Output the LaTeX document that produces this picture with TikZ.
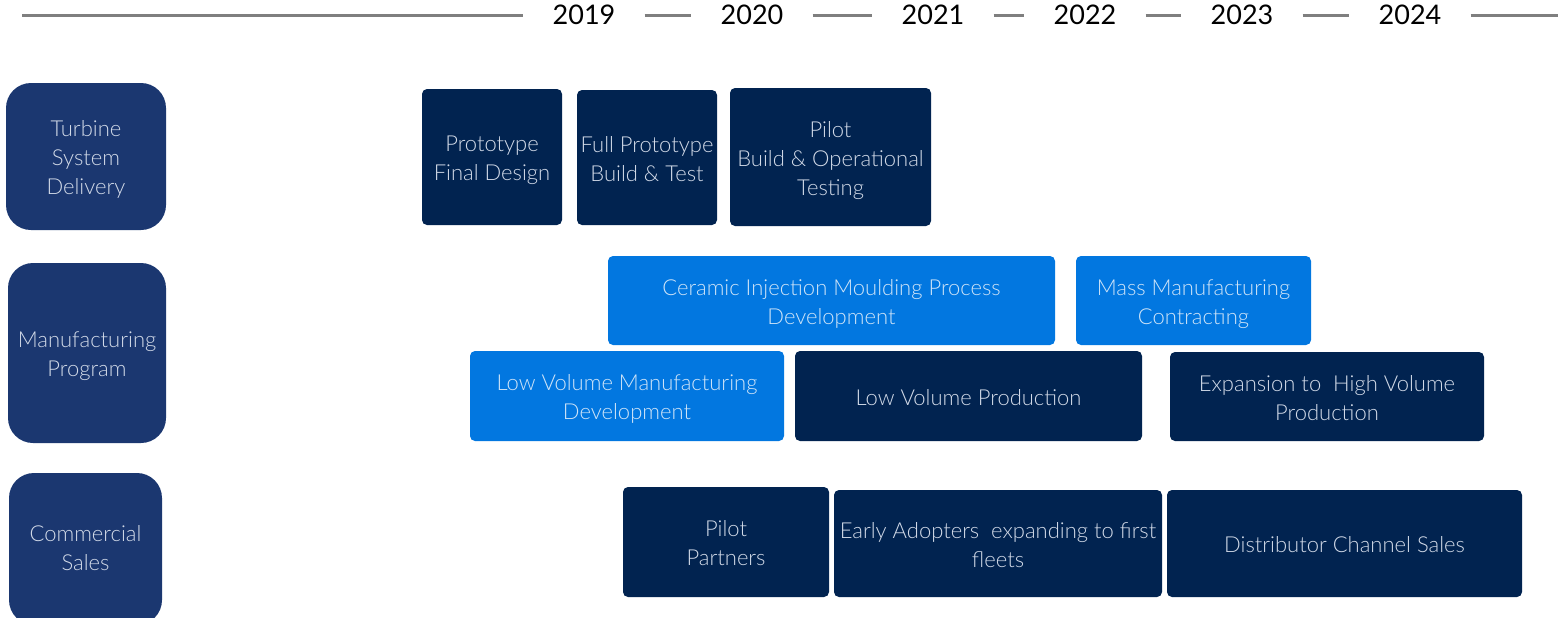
\documentclass[tikz,border=0pt]{standalone}
\usepackage{fontspec}
\setmainfont{Lato}[UprightFont=* Light]
\newfontfamily\yearfont{Lato}
\definecolor{catblue}{HTML}{1B3770}
\definecolor{navy}{HTML}{012350}
\definecolor{brightblue}{HTML}{0277E0}
\definecolor{lighttext}{HTML}{D2DAE8}
\definecolor{lightblue}{HTML}{CFE4F8}
\definecolor{tlgray}{HTML}{7F7F7F}
\newcommand{\txs}[2]{\raisebox{-#1}[\height][\depth]{\begin{tabular}{@{}c@{}}#2\end{tabular}}}
\newcommand{\tx}[1]{\txs{1.8pt}{#1}}
\tikzset{
  boxfont/.style={font=\fontsize{11}{14.5}\selectfont},
  catbox/.style={fill=catblue, rounded corners=12.5pt, text=lighttext, boxfont, inner sep=0pt},
  taskbox/.style={fill=navy, rounded corners=2.5pt, text=lighttext, boxfont, inner sep=0pt},
  lightbox/.style={fill=brightblue, rounded corners=2.5pt, text=lightblue, boxfont, inner sep=0pt},
  year/.style={font=\yearfont\fontsize{13.5}{16}\selectfont, text=black, inner xsep=14.5pt, inner ysep=0pt},
  tline/.style={draw=tlgray, line width=1.5pt}
}
\begin{document}
\begin{tikzpicture}[x=0.5pt,y=-0.5pt]
\useasboundingbox (0,0) rectangle (1558,617);
\begin{scope}
\clip (0,0) rectangle (1558,617);
% timeline
\coordinate (tlstart) at (22,15);
\coordinate (tlend) at (1558,15);
\node[year] (y2019) at (584,15) {2019};
\node[year] (y2020) at (752,15) {2020};
\node[year] (y2021) at (933,15) {2021};
\node[year] (y2022) at (1085,15) {2022};
\node[year] (y2023) at (1242,15) {2023};
\node[year] (y2024) at (1410,15) {2024};
\draw[tline] (tlstart) -- (y2019);
\draw[tline] (y2019) -- (y2020);
\draw[tline] (y2020) -- (y2021);
\draw[tline] (y2021) -- (y2022);
\draw[tline] (y2022) -- (y2023);
\draw[tline] (y2023) -- (y2024);
\draw[tline] (y2024) -- (tlend);
% categories
\node[catbox, minimum width=80pt, minimum height=73.5pt] (cat1) at (86,156.5) {\tx{Turbine\\System\\Delivery}};
\node[catbox, minimum width=79pt, minimum height=90pt] (cat2) at (87,353) {\tx{Manufacturing\\Program}};
\node[catbox, minimum width=76.5pt, minimum height=76pt] (cat3) at (85.5,549) {\txs{0.5pt}{Commercial\\Sales}};
% turbine tasks
\node[taskbox, minimum width=70pt, minimum height=68pt] (t1) at (492,157) {\tx{Prototype\\Final Design}};
\node[taskbox, minimum width=70pt, minimum height=67.5pt] (t2) at (647,157.5) {\tx{Full Prototype\\Build \& Test}};
\node[taskbox, minimum width=100.5pt, minimum height=69pt] (t3) at (830.5,157) {\tx{Pilot\\Build \& Operational\\Testing}};
% manufacturing tasks
\node[lightbox, minimum width=223.5pt, minimum height=44.5pt] (m1) at (831.5,300.5) {\tx{Ceramic Injection Moulding Process\\Development}};
\node[lightbox, minimum width=117.5pt, minimum height=44.5pt] (m2) at (1193.5,300.5) {\tx{Mass Manufacturing\\Contracting}};
\node[lightbox, minimum width=157pt, minimum height=45pt] (m3) at (627,396) {\tx{Low Volume Manufacturing\\Development}};
\node[taskbox, minimum width=173.5pt, minimum height=45pt] (m4) at (968.5,396) {\tx{Low Volume Production}};
\node[taskbox, minimum width=157pt, minimum height=44.5pt] (m5) at (1327,396.5) {\tx{Expansion to\ \ High Volume\\Production}};
% commercial tasks
\node[taskbox, minimum width=103pt, minimum height=55pt] (c1) at (726,542) {\tx{Pilot\\Partners}};
\node[taskbox, minimum width=164pt, minimum height=53.5pt] (c2) at (998,543.5) {\tx{Early Adopters\ \ expanding to first\\fleets}};
\node[taskbox, minimum width=177.5pt, minimum height=53.5pt] (c3) at (1344.5,543.5) {\tx{Distributor Channel Sales}};
\end{scope}
\end{tikzpicture}
\end{document}
